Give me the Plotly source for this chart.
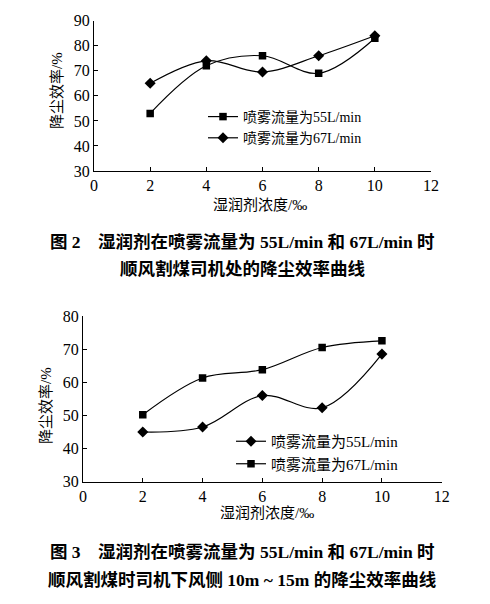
import plotly.graph_objects as go

# 湿润剂浓度 (‰)
concentration = [2, 4, 6, 8, 10]

# 图2: 顺风割煤司机处
fig2_flow55 = [53, 72, 76, 69, 83]
fig2_flow67 = [65, 74, 69.5, 76, 84]

# 图3: 司机下风侧 10m~15m
fig3_flow55 = [45, 46.5, 56, 52.3, 68.5]
fig3_flow67 = [50.2, 61.3, 63.8, 70.5, 72.5]

x_ticks = [0, 2, 4, 6, 8, 10, 12]
fig2_y_ticks = [30, 40, 50, 60, 70, 80, 90]
fig3_y_ticks = [30, 40, 50, 60, 70, 80]

label_55 = "喷雾流量为55L/min"
label_67 = "喷雾流量为67L/min"

SERIF = "Liberation Serif, Noto Sans CJK SC"
BOLD = "Liberation Serif, Noto Sans CJK SC"

# the page body keeps its 8px margin, so the figure is a bit smaller
# and positions below are given in window pixels
OFFSET = 8
W, H = 490 - 2 * OFFSET, 604 - 2 * OFFSET


def px(x):
    return (x - OFFSET) / W


def py(y):
    return 1 - (y - OFFSET) / H


def series(x, y, name, symbol, xa, ya, legend):
    return go.Scatter(
        x=x, y=y, name=name, mode="lines+markers",
        line=dict(color="black", width=1.2, shape="spline"),
        marker=dict(symbol=symbol, size=7.5 if symbol == "square" else 8.5, color="black"),
        xaxis=xa, yaxis=ya, legend=legend,
    )


fig = go.Figure()
fig.add_trace(series(concentration, fig2_flow55, label_55, "square", "x", "y", "legend"))
fig.add_trace(series(concentration, fig2_flow67, label_67, "diamond", "x", "y", "legend"))
fig.add_trace(series(concentration, fig3_flow55, label_55, "diamond", "x2", "y2", "legend2"))
fig.add_trace(series(concentration, fig3_flow67, label_67, "square", "x2", "y2", "legend2"))

axis_style = dict(
    showline=True, linecolor="black", linewidth=1.2, showgrid=False, zeroline=False,
    ticks="inside", ticklen=4, tickcolor="black", tickwidth=1,
    tickfont=dict(family=SERIF, size=16, color="black"),
)

fig.update_layout(
    width=W, height=H, margin=dict(l=0, r=0, t=0, b=0, autoexpand=False),
    paper_bgcolor="white", plot_bgcolor="white",
    xaxis=dict(domain=[px(94), px(431)], range=[0, 12], tickvals=x_ticks, anchor="y", **axis_style),
    yaxis=dict(domain=[py(171), py(20.7)], range=[30, 90], tickvals=fig2_y_ticks, anchor="x", **axis_style),
    xaxis2=dict(domain=[px(83), px(441.7)], range=[0, 12], tickvals=x_ticks, anchor="y2", **axis_style),
    yaxis2=dict(domain=[py(481.7), py(316)], range=[30, 80], tickvals=fig3_y_ticks, anchor="x2", **axis_style),
    legend=dict(x=px(203), y=py(101), xanchor="left", yanchor="top",
                font=dict(family=SERIF, size=14, color="black"),
                bgcolor="rgba(0,0,0,0)", tracegroupgap=0, itemwidth=30),
    legend2=dict(x=px(231), y=py(425), xanchor="left", yanchor="top",
                 font=dict(family=SERIF, size=15, color="black"),
                 bgcolor="rgba(0,0,0,0)", tracegroupgap=0, itemwidth=30),
)

texts = [
    ("降尘效率/%", 57, 91, 15, -90, SERIF),
    ("湿润剂浓度/‰", 260, 205, 15, 0, SERIF),
    ("降尘效率/%", 46, 406, 15, -90, SERIF),
    ("湿润剂浓度/‰", 267, 513, 15, 0, SERIF),
    ("<b>图 2　湿润剂在喷雾流量为 55L/min 和 67L/min 时</b>", 242, 242, 17.5, 0, BOLD),
    ("<b>顺风割煤司机处的降尘效率曲线</b>", 242, 269, 17.5, 0, BOLD),
    ("<b>图 3　湿润剂在喷雾流量为 55L/min 和 67L/min 时</b>", 242, 552, 17.5, 0, BOLD),
    ("<b>顺风割煤时司机下风侧 10m ~ 15m 的降尘效率曲线</b>", 242, 580, 17.5, 0, BOLD),
]
for text, x, y, size, angle, family in texts:
    fig.add_annotation(
        text=text, x=px(x), y=py(y), xref="paper", yref="paper",
        xanchor="center", yanchor="middle",
        showarrow=False, textangle=angle,
        font=dict(family=family, size=size, color="black"),
    )

fig.write_html("out.html")
